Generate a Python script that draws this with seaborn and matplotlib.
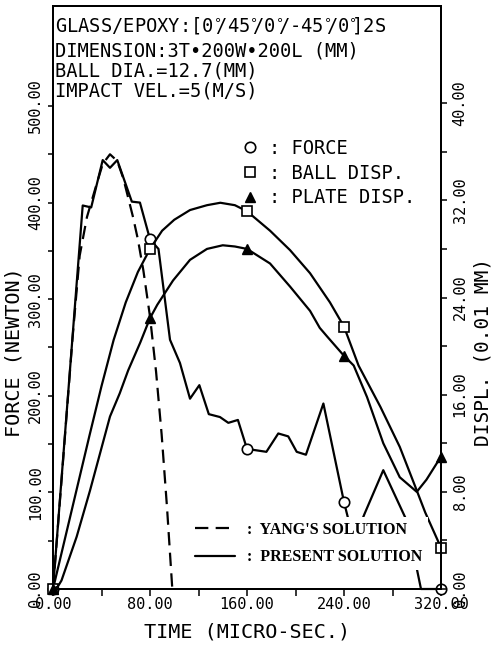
import matplotlib
matplotlib.use("Agg")
import matplotlib.pyplot as plt
import seaborn as sns
import pandas as pd
from matplotlib.lines import Line2D
from matplotlib.ticker import FixedLocator, FormatStrFormatter

sns.set_theme(style="ticks", rc={
    "axes.edgecolor": "black", "text.color": "black",
    "axes.labelcolor": "black", "xtick.color": "black", "ytick.color": "black",
    "axes.linewidth": 1.4,
})
plt.rcParams["font.family"] = ["DejaVu Sans Mono", "DejaVu Sans"]
plt.rcParams["mathtext.fontset"] = "dejavusans"

# ---- contact force, present solution (N) ----
force_t = [0, 24.5, 31.5, 41, 47, 53, 65, 71.7, 80, 87, 96.5, 104.7, 113, 120.7,
           128.5, 137.7, 144.6, 152.5, 160, 176, 185.8, 194, 201, 208.6, 223,
           240, 248, 257, 272.4, 292, 303.5, 320]
force_v = [0, 397, 395, 444, 436, 444, 401, 400, 362, 352, 258, 234, 197, 211,
           181, 178, 172, 175, 145, 142, 161, 158, 142, 139, 192,
           90, 50, 78, 123, 70, 0, 0]

# ---- contact force, Yang's solution (N) ----
yang_t = [0, 8, 16, 22, 28, 35, 41, 47, 53, 58, 62, 66, 70, 74.5, 80, 85,
          89.6, 94, 98.4]
yang_v = [0, 128, 258, 345, 385, 415, 440, 450, 443, 425, 405, 385, 362, 330,
          282, 225, 160, 85, 0]

# ---- ball displacement (0.01 mm) ----
ball_t = [0, 10, 20, 30, 40, 50, 60, 70, 80, 90, 100, 113, 127, 138, 150, 160,
          179, 195.5, 212, 228.4, 240, 252, 270, 286, 298.5, 307, 320]
ball_d = [0, 4.2, 8.4, 12.6, 16.7, 20.5, 23.6, 26.1, 28.0, 29.5, 30.4, 31.2,
          31.6, 31.8, 31.6, 31.1, 29.5, 27.9, 26.0, 23.6, 21.6, 18.4, 15.0,
          11.7, 8.5, 6.3, 3.4]

# ---- plate displacement (0.01 mm) ----
plate_t = [0, 4, 7, 19.5, 30.5, 47, 55, 62, 72, 80, 86, 99, 113, 127, 140, 150,
           160, 179, 195.5, 212, 220, 226, 240, 248, 259, 272.4, 286, 300, 308,
           320]
plate_d = [0, 0.2, 0.7, 4.3, 8.1, 14.2, 16.1, 18.0, 20.3, 22.3, 23.4, 25.4,
           27.1, 28.0, 28.3, 28.2, 28.0, 26.8, 24.9, 22.9, 21.5, 20.8, 19.2,
           18.4, 15.8, 12.0, 9.2, 8.0, 9.0, 10.9]

time_ticks = [0, 80, 160, 240, 320]
time_minor = [40, 120, 200, 280]
force_ticks = [0, 100, 200, 300, 400, 500]
force_minor = [50, 150, 250, 350, 450]
disp_ticks = [0, 8, 16, 24, 32, 40]
disp_minor = [4, 12, 20, 28, 36]

deg = r"$^{\circ}\!\!$"
header = [
    f"GLASS/EPOXY:[0{deg}/45{deg}/0{deg}/-45{deg}/0{deg}]2S",
    "DIMENSION:3T•200W•200L (MM)",
    "BALL DIA.=12.7(MM)",
    "IMPACT VEL.=5(M/S)",
]


def marks_at(ts, step=80):
    return [i for i, t in enumerate(ts) if abs(t % step) < 1e-9]


fig = plt.figure(figsize=(4.93, 6.45), dpi=100)
ax = fig.add_axes([53 / 493, 56 / 645, 388 / 493, 583 / 645])
ax2 = ax.twinx()

lw = 1.6
sns.lineplot(data=pd.DataFrame({"t": yang_t, "v": yang_v}), x="t", y="v", ax=ax,
             color="black", lw=lw, sort=False, estimator=None,
             linestyle=(0, (6, 3.3)))
sns.lineplot(data=pd.DataFrame({"t": force_t, "v": force_v}), x="t", y="v", ax=ax,
             color="black", lw=lw, sort=False, estimator=None,
             marker="o", markevery=marks_at(force_t), markersize=7.5,
             markerfacecolor="white", markeredgecolor="black",
             markeredgewidth=1.2, clip_on=False)
sns.lineplot(data=pd.DataFrame({"t": ball_t, "v": ball_d}), x="t", y="v", ax=ax2,
             color="black", lw=lw, sort=False, estimator=None,
             marker="s", markevery=marks_at(ball_t), markersize=6.5,
             markerfacecolor="white", markeredgecolor="black",
             markeredgewidth=1.2, clip_on=False)
sns.lineplot(data=pd.DataFrame({"t": plate_t, "v": plate_d}), x="t", y="v", ax=ax2,
             color="black", lw=lw, sort=False, estimator=None,
             marker="^", markevery=marks_at(plate_t), markersize=7,
             markerfacecolor="black", markeredgecolor="black",
             markeredgewidth=1.0, clip_on=False)

ax.set_xlim(0, 320)
ax.set_ylim(0, 603.5)
ax2.set_ylim(0, 48.0)

fmt = FormatStrFormatter("%.2f")
ax.xaxis.set_major_locator(FixedLocator(time_ticks))
ax.xaxis.set_minor_locator(FixedLocator(time_minor))
ax.yaxis.set_major_locator(FixedLocator(force_ticks))
ax.yaxis.set_minor_locator(FixedLocator(force_minor))
ax2.yaxis.set_major_locator(FixedLocator(disp_ticks))
ax2.yaxis.set_minor_locator(FixedLocator(disp_minor))
for a in (ax.xaxis, ax.yaxis, ax2.yaxis):
    a.set_major_formatter(fmt)

ax.tick_params(axis="x", which="both", direction="out", length=5, width=1.1,
               pad=1, labelsize=11)
ax.tick_params(axis="y", which="both", direction="out", length=3.6, width=1.1,
               pad=3.5, labelsize=11, labelrotation=90)
ax2.tick_params(axis="y", which="both", direction="out", length=4.3, width=1.1,
                pad=4, labelsize=11, labelrotation=90)
for lbl in ax.get_yticklabels() + ax2.get_yticklabels():
    lbl.set_verticalalignment("center")

for a in (ax, ax2):
    for s in a.spines.values():
        s.set_visible(True)
        s.set_linewidth(1.4)
        s.set_color("black")

ax.set_xlabel("TIME (MICRO-SEC.)", fontsize=14.5, labelpad=7)
ax.set_ylabel("FORCE (NEWTON)", fontsize=14.5)
ax.yaxis.set_label_coords(-0.075, 0.407)
ax2.set_ylabel("DISPL. (0.01 MM)", fontsize=14)
ax2.yaxis.set_label_coords(1.084, 0.407)

# specimen / test description block
for y, line in zip([0.966, 0.923, 0.888, 0.854], header):
    ax.text(0.005, y, line, transform=ax.transAxes, fontsize=13.5,
            ha="left", va="center")

# marker key
key_handles = [
    Line2D([], [], ls="none", marker="o", ms=7.5, mfc="white", mec="black", mew=1.2),
    Line2D([], [], ls="none", marker="s", ms=6.5, mfc="white", mec="black", mew=1.2),
    Line2D([], [], ls="none", marker="^", ms=7, mfc="black", mec="black"),
]
ax.legend(key_handles, [": FORCE", ": BALL DISP.", ": PLATE DISP."],
          loc="upper left", bbox_to_anchor=(0.4845, 0.772), frameon=False,
          borderpad=0, borderaxespad=0, handlelength=0.95, handletextpad=0.55,
          labelspacing=0.3, prop={"family": "DejaVu Sans Mono", "size": 13.5})

# solution line-style key on an opaque label
style_handles = [
    Line2D([], [], color="black", lw=lw, ls=(0, (6, 3.3))),
    Line2D([], [], color="black", lw=lw),
]
leg = ax2.legend(style_handles, [":  YANG'S SOLUTION", ":  PRESENT SOLUTION"],
                 loc="lower left", bbox_to_anchor=(0.353, 0.0326),
                 borderaxespad=0, borderpad=0.3, handlelength=2.55,
                 handletextpad=0.75, labelspacing=0.72, fancybox=False,
                 framealpha=1, facecolor="white", edgecolor="white",
                 prop={"family": "Liberation Serif", "weight": "bold", "size": 11.5})
leg.get_frame().set_linewidth(0)

fig.savefig("out.png", dpi=100)
